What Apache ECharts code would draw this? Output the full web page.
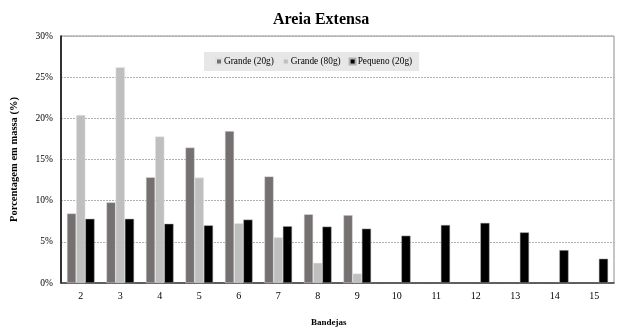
<!DOCTYPE html>
<html>
<head>
<meta charset="utf-8">
<script src="https://cdn.jsdelivr.net/npm/echarts@6/dist/echarts.min.js"></script>
<style>html,body{margin:0;padding:0;background:#fff}#c{width:617px;height:327px}</style>
</head>
<body>
<div id="c"></div>
<script>
var categories = ['2','3','4','5','6','7','8','9','10','11','12','13','14','15'];
var grande20 = [8.45, 9.8, 12.85, 16.45, 18.45, 12.95, 8.35, 8.25, null, null, null, null, null, null];
var grande80 = [20.4, 26.2, 17.8, 12.8, 7.25, 5.55, 2.45, 1.15, null, null, null, null, null, null];
var pequeno20 = [7.8, 7.8, 7.2, 7.0, 7.7, 6.9, 6.85, 6.6, 5.75, 7.05, 7.3, 6.15, 4.0, 2.95];
var yTicks = [0, 5, 10, 15, 20, 25, 30];

var serif = '"Liberation Serif", "Times New Roman", serif';
var chart = echarts.init(document.getElementById('c'), null, {renderer: 'canvas'});
chart.setOption({
  animation: false,
  backgroundColor: '#fff',
  title: [
    {text: 'Areia Extensa', left: 268, top: 7,
     textStyle: {fontFamily: serif, fontWeight: 'bold', fontSize: 16, color: '#000'}},
    {text: 'Bandejas', left: 306, top: 313,
     textStyle: {fontFamily: serif, fontWeight: 'bold', fontSize: 9, color: '#000'}}
  ],
  legend: {
    left: 204, top: 52,
    backgroundColor: '#e8e7e7',
    padding: [5, 7, 5, 11],
    itemWidth: 6, itemHeight: 6, itemGap: 8,
    icon: 'rect',
    textStyle: {fontFamily: serif, fontSize: 9.3, color: '#000', padding: [0, 0, 0, -3]},
    data: ['Grande (20g)', 'Grande (80g)', 'Pequeno (20g)']
  },
  grid: {left: 61, right: 3, top: 36, bottom: 44, show: true, borderColor: '#8c8c8c', borderWidth: 1},
  xAxis: {
    type: 'category', data: categories,
    axisLine: {lineStyle: {color: '#404040', width: 1.5}},
    axisTick: {show: false},
    axisLabel: {fontFamily: serif, fontSize: 10, color: '#000', margin: 8}
  },
  yAxis: {
    type: 'value', min: 0, max: 30, interval: 5,
    name: 'Porcentagem em massa (%)', nameLocation: 'middle', nameGap: 41,
    nameTextStyle: {fontFamily: serif, fontWeight: 'bold', fontSize: 10.5, color: '#000'},
    axisLine: {show: true, lineStyle: {color: '#000', width: 1.5}},
    axisTick: {show: false},
    axisLabel: {fontFamily: serif, fontSize: 9.5, color: '#000', margin: 8,
      formatter: function (v) { return yTicks.indexOf(v) >= 0 ? v + '%' : ''; }},
    splitLine: {lineStyle: {color: '#b0b0b0', type: [2, 1], width: 1}}
  },
  series: [
    {name: 'Grande (20g)', type: 'bar', data: grande20, barGap: '0%', barCategoryGap: '30%',
     itemStyle: {color: '#767171', borderColor: '#e0e0e0', borderWidth: 0.5}},
    {name: 'Grande (80g)', type: 'bar', data: grande80, barGap: '0%', barCategoryGap: '30%',
     itemStyle: {color: '#bfbfbf', borderColor: '#e6e6e6', borderWidth: 0.5}},
    {name: 'Pequeno (20g)', type: 'bar', data: pequeno20, barGap: '0%', barCategoryGap: '30%',
     itemStyle: {color: '#000000', borderColor: '#b0b0b0', borderWidth: 0.5}}
  ]
});
</script>
</body>
</html>
